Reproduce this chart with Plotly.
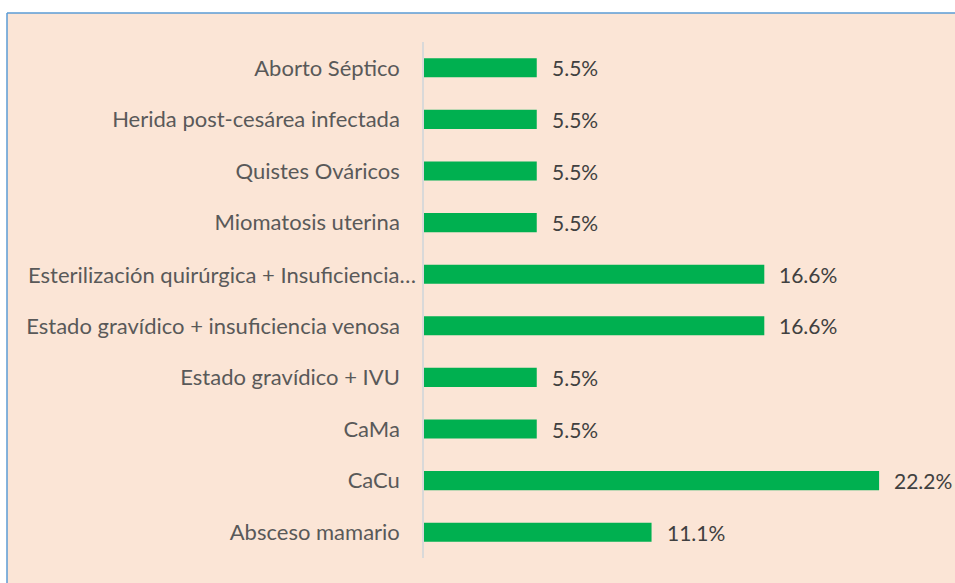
import plotly.graph_objects as go

categories = [
    "Aborto Séptico",
    "Herida post-cesárea infectada",
    "Quistes Ováricos",
    "Miomatosis uterina",
    "Esterilización quirúrgica + Insuficiencia…",
    "Estado gravídico + insuficiencia venosa",
    "Estado gravídico + IVU",
    "CaMa",
    "CaCu",
    "Absceso mamario",
]
values = [5.5, 5.5, 5.5, 5.5, 16.6, 16.6, 5.5, 5.5, 22.2, 11.1]
value_labels = ["5.5%", "5.5%", "5.5%", "5.5%", "16.6%", "16.6%", "5.5%", "5.5%", "22.2%", "11.1%"]
truncated = "Esterilización quirúrgica + Insuficiencia…"

W, H = 955, 583
ML, MR, MT, MB = 424, 25, 42, 25
pw = W - ML - MR
ph = H - MT - MB
LABEL_FONT = dict(family="Lato", size=22, color="#595959")

fig = go.Figure()
fig.add_trace(go.Bar(
    x=values, y=categories, orientation="h",
    marker=dict(color="#00B050", line=dict(width=0)),
    width=0.37,
    hoverinfo="skip",
))

annotations = []
for c, v, t in zip(categories, values, value_labels):
    annotations.append(dict(
        x=v, y=c, xref="x", yref="y", text=t, showarrow=False,
        xanchor="left", yanchor="middle", xshift=13,
        font=dict(family="Lato", size=21, color="#404040"),
    ))
# the truncated label sits closer to the axis, as in the original
annotations.append(dict(
    x=0, y=truncated, xref="paper", yref="y", text=truncated, showarrow=False,
    xanchor="right", yanchor="middle", xshift=-6,
    font=LABEL_FONT,
))

ticktext = ["" if c == truncated else c for c in categories]

fx0 = (7 - ML) / pw
fx1 = (W + 20 - ML) / pw
fy0 = -(MB + 20) / ph
fy1 = 1 + (MT - 13) / ph

fig.update_layout(
    width=W, height=H,
    margin=dict(l=ML, r=MR, t=MT, b=MB, pad=0),
    paper_bgcolor="white",
    plot_bgcolor="rgba(0,0,0,0)",
    showlegend=False,
    annotations=annotations,
    shapes=[
        dict(type="rect", xref="paper", yref="paper", layer="below",
             x0=fx0, x1=fx1, y0=fy0, y1=fy1,
             fillcolor="#FBE5D6", line=dict(width=0)),
        dict(type="line", xref="paper", yref="paper", layer="below",
             x0=fx0, x1=fx1, y0=fy1, y1=fy1,
             line=dict(color="#5B9BD5", width=1.5)),
        dict(type="line", xref="paper", yref="paper", layer="below",
             x0=fx0, x1=fx0, y0=fy0, y1=fy1,
             line=dict(color="#5B9BD5", width=1.5)),
    ],
    xaxis=dict(
        range=[0, pw / 20.5], showgrid=False, zeroline=False,
        showticklabels=False, showline=False, ticks="",
    ),
    yaxis=dict(
        autorange="reversed", showgrid=False, zeroline=False,
        showline=True, linecolor="#D9D9D9", linewidth=1.5,
        tickmode="array", tickvals=categories, ticktext=ticktext,
        ticks="outside", ticklen=18, tickcolor="rgba(0,0,0,0)",
        tickfont=LABEL_FONT,
    ),
)

fig.write_html(
    "out.html",
    config={"displayModeBar": False},
    post_script="document.body.style.margin='0';document.body.style.overflow='hidden';",
)
